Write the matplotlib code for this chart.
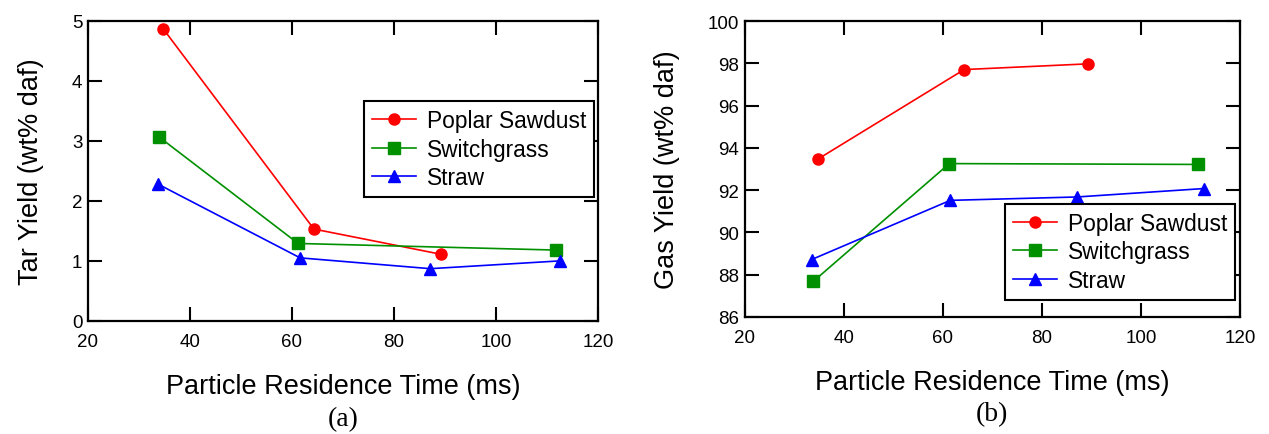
import matplotlib.pyplot as plt

plt.rcParams['font.family'] = ['Liberation Sans', 'DejaVu Sans']

# (a) tar yield
tar_poplar_t = [34.8, 64.3, 89.2]
tar_poplar = [4.86, 1.53, 1.11]
tar_switch_t = [34.0, 61.2, 111.7]
tar_switch = [3.06, 1.29, 1.18]
tar_straw_t = [33.7, 61.6, 87.1, 112.6]
tar_straw = [2.28, 1.05, 0.87, 1.0]

# (b) gas yield
gas_poplar_t = [34.8, 64.3, 89.3]
gas_poplar = [93.48, 97.71, 97.98]
gas_switch_t = [33.8, 61.3, 111.6]
gas_switch = [87.68, 93.26, 93.22]
gas_straw_t = [33.5, 61.5, 87.1, 112.8]
gas_straw = [88.72, 91.52, 91.68, 92.08]

labels = ["Poplar Sawdust", "Switchgrass", "Straw"]
colors = ["#ff0000", "#009000", "#0000ff"]
markers = ["o", "s", "^"]

fig = plt.figure(figsize=(12.69, 4.35), dpi=100)
ax1 = fig.add_axes([0.0693, 0.260, 0.402, 0.690])
ax2 = fig.add_axes([0.587, 0.269, 0.390, 0.680])


def draw(ax, series, ylim, yticks, ylabel, leg_loc, leg_anchor, tag):
    for (t, v), lab, c, m in zip(series, labels, colors, markers):
        ax.plot(t, v, color=c, marker=m, markersize=8, lw=1.2, label=lab)
    ax.set_xlim(20, 120)
    ax.set_xticks([20, 40, 60, 80, 100, 120])
    ax.set_ylim(*ylim)
    ax.set_yticks(yticks)
    ax.tick_params(direction="in", length=10, width=1.5, labelsize=13.5,
                   top=True, right=True)
    ax.tick_params(axis="x", pad=9)
    ax.tick_params(axis="y", pad=4)
    for s in ax.spines.values():
        s.set_linewidth(1.6)
    ax.set_xlabel("Particle Residence Time (ms)", fontsize=19.5, labelpad=16)
    ax.set_ylabel(ylabel, fontsize=19.5, labelpad=20)
    leg = ax.legend(loc=leg_loc, bbox_to_anchor=leg_anchor, fontsize=16.4,
                    fancybox=False, framealpha=1, edgecolor="black",
                    handlelength=1.95, borderpad=0.35, labelspacing=0.25,
                    handletextpad=0.45, borderaxespad=0)
    leg.get_frame().set_linewidth(1.5)
    ax.text(0.5, -0.285, tag, transform=ax.transAxes, ha="center", va="top",
            fontsize=20, family="Liberation Serif")


draw(ax1, [(tar_poplar_t, tar_poplar), (tar_switch_t, tar_switch), (tar_straw_t, tar_straw)],
     (0, 5), [0, 1, 2, 3, 4, 5], "Tar Yield (wt% daf)", "upper right", (0.992, 0.733), "(a)")
draw(ax2, [(gas_poplar_t, gas_poplar), (gas_switch_t, gas_switch), (gas_straw_t, gas_straw)],
     (86, 100), [86, 88, 90, 92, 94, 96, 98, 100], "Gas Yield (wt% daf)", "lower right", (0.99, 0.057), "(b)")

fig.savefig("out.png", dpi=100)
